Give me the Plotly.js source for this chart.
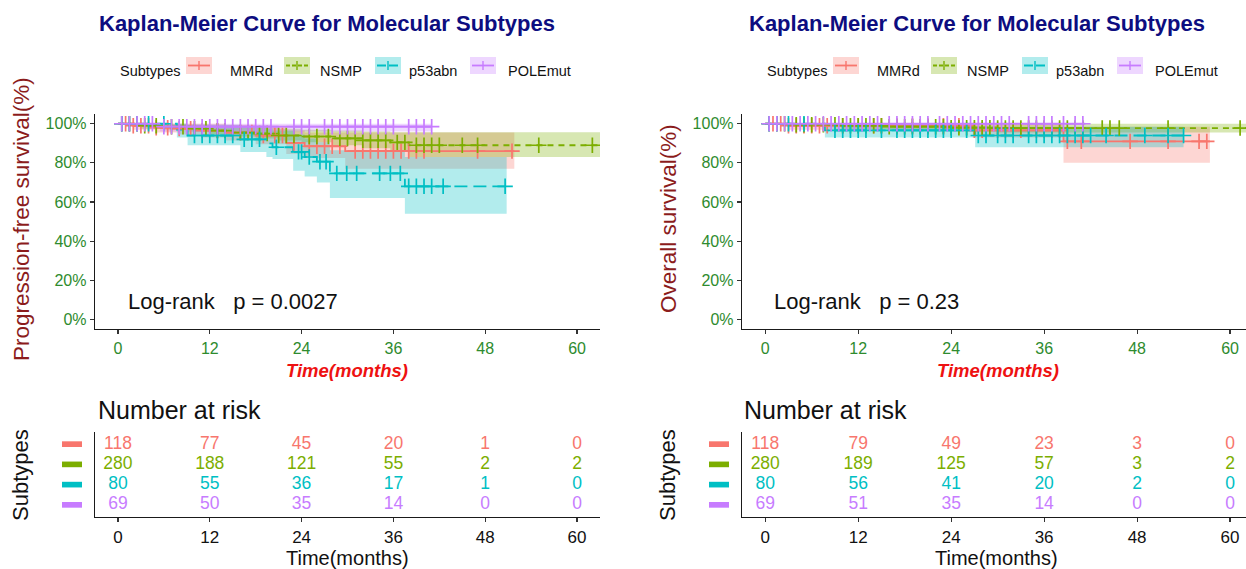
<!DOCTYPE html>
<html>
<head>
<meta charset="utf-8">
<script src="https://cdn.plot.ly/plotly-3.0.1.min.js"></script>
<style>html,body{margin:0;padding:0;background:#fff;}#chart{width:1246px;height:569px;}</style>
</head>
<body>
<div id="chart"></div>
<script>
// ---------------- DATA ----------------
const subtypes = ["MMRd", "NSMP", "p53abn", "POLEmut"];
const colors = ["#F8766D", "#7CAE00", "#00BFC4", "#C77CFF"];
const riskTimes = [0, 12, 24, 36, 48, 60];
const xTickVals = [0, 12, 24, 36, 48, 60];
const yTickVals = [0, 0.2, 0.4, 0.6, 0.8, 1.0];
const yTickText = ["0%", "20%", "40%", "60%", "80%", "100%"];

// Progression-free survival (left panel)
const pfsTimeMMRd  = [0, 2, 5, 8, 11, 14, 18, 22, 24.4, 29.7];
const pfsSurvMMRd  = [1, 0.99, 0.98, 0.975, 0.965, 0.955, 0.94, 0.902, 0.885, 0.86];
const pfsLowMMRd   = [1, 0.97, 0.955, 0.945, 0.93, 0.915, 0.895, 0.845, 0.825, 0.77];
const pfsUpMMRd    = [1, 1, 1, 1, 1, 0.995, 0.99, 0.965, 0.955, 0.955];
const pfsEndMMRd   = 51.8;
const pfsCensMMRd  = [1, 2, 3, 4, 5, 6.5, 8, 9.5, 11, 13, 15, 16, 17.5, 19, 20.5, 21.5, 23, 25, 26, 27, 28, 29, 31, 32, 33, 34, 35, 36, 37, 38, 39, 40, 47, 51.5];

const pfsTimeNSMP  = [0, 3, 6, 9, 12, 15, 18, 21, 24, 28, 32, 35.6, 38];
const pfsSurvNSMP  = [1, 0.99, 0.985, 0.975, 0.965, 0.955, 0.95, 0.94, 0.935, 0.925, 0.915, 0.905, 0.89];
const pfsLowNSMP   = [1, 0.975, 0.97, 0.96, 0.945, 0.935, 0.925, 0.915, 0.905, 0.89, 0.875, 0.86, 0.83];
const pfsUpNSMP    = [1, 1, 1, 0.995, 0.99, 0.985, 0.98, 0.975, 0.97, 0.965, 0.96, 0.956, 0.956];
const pfsEndNSMP   = 63;
const pfsCensNSMP  = [0.5, 1.5, 2.5, 3.5, 5, 7, 8.5, 10, 11.5, 13, 14, 16, 17, 18.5, 19.5, 21, 22, 23, 25, 26, 27.5, 29, 30, 31, 32, 33, 34, 35, 36.5, 37.5, 39, 40, 41, 42, 45, 47, 55, 62];

const pfsTimeP53   = [0, 7.7, 9.1, 16, 19.4, 20.2, 22.9, 24.4, 26, 27.7, 37.5];
const pfsSurvP53   = [1, 0.97, 0.94, 0.92, 0.90, 0.88, 0.856, 0.83, 0.806, 0.746, 0.68];
const pfsLowP53    = [1, 0.93, 0.89, 0.856, 0.83, 0.82, 0.76, 0.73, 0.70, 0.62, 0.54];
const pfsUpP53     = [1, 1, 0.995, 0.985, 0.975, 0.965, 0.945, 0.925, 0.905, 0.865, 0.83];
const pfsEndP53    = 50.8;
const pfsCensP53   = [0.5, 1.5, 2.5, 4, 6, 10, 11, 12, 13, 14, 15, 16.5, 17.5, 18.5, 20.7, 23.6, 24, 25, 26.4, 27.2, 28.6, 29.9, 31.2, 34.2, 35.6, 36.9, 38, 39, 40, 41, 42.5, 50.6];

const pfsTimePOLE  = [0, 5.5];
const pfsSurvPOLE  = [1, 0.985];
const pfsLowPOLE   = [1, 0.96];
const pfsUpPOLE    = [1, 1];
const pfsEndPOLE   = 41;
const pfsCensPOLE  = [0.5, 1.5, 2.5, 3.5, 4.5, 6, 7, 8, 9, 10, 11, 12, 13, 14, 15, 16, 17, 18, 19, 20, 23, 24, 25, 27, 28, 29, 30, 31, 32, 33, 34, 35, 36, 38, 39, 40, 41];

// Overall survival (right panel)
const osTimeMMRd   = [0, 3, 26.8, 38.5];
const osSurvMMRd   = [1, 0.99, 0.966, 0.91];
const osLowMMRd    = [1, 0.97, 0.93, 0.80];
const osUpMMRd     = [1, 1, 1, 0.985];
const osEndMMRd    = 57.4;
const osCensMMRd   = [1, 2, 3, 4, 5, 6, 7, 8, 10, 12, 14, 15, 17, 19, 21, 23, 25, 27, 28, 30, 31, 32, 33, 35, 36, 37, 38, 39, 40.8, 47.1, 52, 56, 57];

const osTimeNSMP   = [0, 4, 10, 16, 24, 30];
const osSurvNSMP   = [1, 0.995, 0.99, 0.985, 0.98, 0.978];
const osLowNSMP    = [1, 0.985, 0.975, 0.965, 0.96, 0.955];
const osUpNSMP     = [1, 1, 1, 1, 1, 1];
const osEndNSMP    = 62.1;
const osCensNSMP   = [0.5, 1.5, 2.5, 4, 5, 6, 7.5, 9, 10, 11, 12, 13, 14, 15, 16, 17, 18, 19, 20, 21, 22, 23, 24, 25, 26, 27, 28, 29, 30, 31, 32, 33, 34, 35, 36, 37, 38, 39, 40, 41, 43.5, 44.5, 45.7, 52, 61.3];

const osTimeP53    = [0, 7.7, 27.1];
const osSurvP53    = [1, 0.966, 0.94];
const osLowP53     = [1, 0.93, 0.88];
const osUpP53      = [1, 0.99, 0.985];
const osEndP53     = 54;
const osCensP53    = [0.5, 1.5, 3, 5, 9, 10, 11, 12, 13, 15, 17, 18, 19, 20, 21, 22, 23, 24, 26, 27.5, 28.5, 30, 31, 32, 34, 35, 36, 37, 38, 39, 40, 41, 42, 44, 49, 52, 54];

const osTimePOLE   = [0];
const osSurvPOLE   = [1];
const osLowPOLE    = [1];
const osUpPOLE     = [1];
const osEndPOLE    = 41.3;
const osCensPOLE   = [0.5, 1.5, 2.5, 3.5, 4.5, 5.5, 6.5, 7.5, 8.5, 9.5, 10.5, 11.5, 12.5, 13.5, 14.5, 16, 17, 18, 19, 20, 21, 22.5, 23.5, 24.5, 25.5, 26.5, 27.5, 28.5, 29.5, 30.5, 31.5, 34, 35, 36, 37, 38.5, 40, 41];

// Number at risk
const pfsRiskMMRd = [118, 77, 45, 20, 1, 0];
const pfsRiskNSMP = [280, 188, 121, 55, 2, 2];
const pfsRiskP53  = [80, 55, 36, 17, 1, 0];
const pfsRiskPOLE = [69, 50, 35, 14, 0, 0];
const osRiskMMRd  = [118, 79, 49, 23, 3, 0];
const osRiskNSMP  = [280, 189, 125, 57, 3, 2];
const osRiskP53   = [80, 56, 41, 20, 2, 0];
const osRiskPOLE  = [69, 51, 35, 14, 0, 0];

// ---------------- BUILD ----------------
const W = 1246, H = 569;
const px = x => x / W;
const py = y => 1 - y / H;
const FONT = "Liberation Sans, Arial, sans-serif";
const dashes = ["solid", "6px,5px", "13px,6px", "solid"];

function rgba(hex, a) {
  const r = parseInt(hex.slice(1, 3), 16), g = parseInt(hex.slice(3, 5), 16), b = parseInt(hex.slice(5, 7), 16);
  return `rgba(${r},${g},${b},${a})`;
}
function survAt(times, surv, t) {
  let s = surv[0];
  for (let i = 0; i < times.length; i++) if (times[i] <= t) s = surv[i];
  return s;
}
function ext(arr, endT) { return arr.concat([endT]); }
function extV(arr) { return arr.concat([arr[arr.length - 1]]); }

const pfsGroups = [
  {t: pfsTimeMMRd, s: pfsSurvMMRd, lo: pfsLowMMRd, up: pfsUpMMRd, end: pfsEndMMRd, c: pfsCensMMRd, risk: pfsRiskMMRd},
  {t: pfsTimeNSMP, s: pfsSurvNSMP, lo: pfsLowNSMP, up: pfsUpNSMP, end: pfsEndNSMP, c: pfsCensNSMP, risk: pfsRiskNSMP},
  {t: pfsTimeP53, s: pfsSurvP53, lo: pfsLowP53, up: pfsUpP53, end: pfsEndP53, c: pfsCensP53, risk: pfsRiskP53},
  {t: pfsTimePOLE, s: pfsSurvPOLE, lo: pfsLowPOLE, up: pfsUpPOLE, end: pfsEndPOLE, c: pfsCensPOLE, risk: pfsRiskPOLE}
];
const osGroups = [
  {t: osTimeMMRd, s: osSurvMMRd, lo: osLowMMRd, up: osUpMMRd, end: osEndMMRd, c: osCensMMRd, risk: osRiskMMRd},
  {t: osTimeNSMP, s: osSurvNSMP, lo: osLowNSMP, up: osUpNSMP, end: osEndNSMP, c: osCensNSMP, risk: osRiskNSMP},
  {t: osTimeP53, s: osSurvP53, lo: osLowP53, up: osUpP53, end: osEndP53, c: osCensP53, risk: osRiskP53},
  {t: osTimePOLE, s: osSurvPOLE, lo: osLowPOLE, up: osUpPOLE, end: osEndPOLE, c: osCensPOLE, risk: osRiskPOLE}
];

const data = [];
function addPanel(groups, xa, ya, xr, yr) {
  groups.forEach((g, i) => {
    data.push({type: "scatter", mode: "lines", x: ext(g.t, g.end), y: extV(g.lo), xaxis: xa, yaxis: ya,
      line: {shape: "hv", width: 0, color: "rgba(0,0,0,0)"}, hoverinfo: "skip", showlegend: false});
    data.push({type: "scatter", mode: "lines", x: ext(g.t, g.end), y: extV(g.up), xaxis: xa, yaxis: ya,
      line: {shape: "hv", width: 0, color: "rgba(0,0,0,0)"}, fill: "tonexty", fillcolor: rgba(colors[i], 0.3),
      hoverinfo: "skip", showlegend: false});
  });
  groups.forEach((g, i) => {
    data.push({type: "scatter", mode: "lines", x: ext(g.t, g.end), y: extV(g.s), xaxis: xa, yaxis: ya,
      line: {shape: "hv", width: 1.8, color: colors[i], dash: dashes[i]}, name: subtypes[i], showlegend: false});
  });
  groups.forEach((g, i) => {
    data.push({type: "scatter", mode: "markers", x: g.c, y: g.c.map(t => survAt(g.t, g.s, t)), xaxis: xa, yaxis: ya,
      marker: {symbol: "cross-thin-open", size: 11, line: {width: 1.7, color: colors[i]}, color: colors[i]},
      showlegend: false, hoverinfo: "skip"});
  });
  groups.forEach((g, i) => {
    data.push({type: "scatter", mode: "text", x: riskTimes, y: riskTimes.map(() => 4 - i), text: g.risk.map(String),
      xaxis: xr, yaxis: yr, textfont: {family: FONT, size: 17.5, color: colors[i]}, textposition: "middle center",
      showlegend: false, hoverinfo: "skip"});
  });
}
addPanel(pfsGroups, "x", "y", "x2", "y2");
addPanel(osGroups, "x3", "y3", "x4", "y4");

const kmDomY = [py(329), py(114)];
const rkDomY = [py(517), py(432)];
const leftDom = [px(95), px(600)];
const rightDom = [px(742), 1];

const axLine = {showline: true, linecolor: "#1a1a1a", linewidth: 1.3, showgrid: false, zeroline: false,
  ticks: "outside", ticklen: 4, tickcolor: "#333", tickwidth: 1.1};
const kmX = Object.assign({}, axLine, {tickvals: xTickVals, tickfont: {family: FONT, size: 16, color: "#2e8b2e"}});
const kmY = Object.assign({}, axLine, {range: [-0.05, 1.05], tickvals: yTickVals, ticktext: yTickText,
  tickfont: {family: FONT, size: 16, color: "#2e8b2e"}});
const rkX = Object.assign({}, axLine, {tickvals: xTickVals, tickfont: {family: FONT, size: 17, color: "#111"}});
const rkY = Object.assign({}, axLine, {range: [0.4, 4.6], showticklabels: false, ticks: ""});

const layout = {
  width: W, height: H, margin: {l: 0, r: 0, t: 0, b: 0}, showlegend: false,
  paper_bgcolor: "#fff", plot_bgcolor: "#fff", font: {family: FONT},
  xaxis: Object.assign({}, kmX, {domain: leftDom, range: [-3, 63], anchor: "y"}),
  yaxis: Object.assign({}, kmY, {domain: kmDomY, anchor: "x"}),
  xaxis2: Object.assign({}, rkX, {domain: leftDom, range: [-3, 63], anchor: "y2"}),
  yaxis2: Object.assign({}, rkY, {domain: rkDomY, anchor: "x2"}),
  xaxis3: Object.assign({}, kmX, {domain: rightDom, range: [-3, 62.06], anchor: "y3"}),
  yaxis3: Object.assign({}, kmY, {domain: kmDomY, anchor: "x3"}),
  xaxis4: Object.assign({}, rkX, {domain: rightDom, range: [-3, 62.06], anchor: "y4"}),
  yaxis4: Object.assign({}, rkY, {domain: rkDomY, anchor: "x4"}),
  annotations: [], shapes: []
};

function ann(x, y, text, opts) {
  layout.annotations.push(Object.assign({xref: "paper", yref: "paper", x: px(x), y: py(y), text: text,
    showarrow: false, xanchor: "center", yanchor: "middle", font: {family: FONT, size: 16, color: "#000"}}, opts || {}));
}

const panels = [
  {dx: 0, title: "Kaplan-Meier Curve for Molecular Subtypes", titleX: 327, ytitle: "Progression-free survival(%)", ytY: 219,
   xtX: 347, logrank: "Log-rank\u00a0\u00a0\u00a0p = 0.0027", lrX: 126, yr: "y2", barX: 62, subX: 20, nrX: 96, btX: 347},
  {dx: 647, title: "Kaplan-Meier Curve for Molecular Subtypes", titleX: 977, ytitle: "Overall survival(%)", ytY: 219,
   xtX: 998, logrank: "Log-rank\u00a0\u00a0\u00a0p = 0.23", lrX: 772, yr: "y4", barX: 709, subX: 667, nrX: 742, btX: 996}
];

const legItems = [
  {box: 186, text: 228},
  {box: 284, text: 318},
  {box: 375, text: 407},
  {box: 470, text: 506}
];

panels.forEach(p => {
  ann(p.titleX, 23, "<b>" + p.title + "</b>", {font: {family: FONT, size: 22, color: "#0d0d80"}});
  ann(p.dx + 118, 71, "Subtypes", {xanchor: "left", font: {family: FONT, size: 14.5, color: "#111"}});
  legItems.forEach((li, i) => {
    const bx = p.dx + li.box;
    layout.shapes.push({type: "rect", xref: "paper", yref: "paper", x0: px(bx), x1: px(bx + 26), y0: py(57), y1: py(74),
      fillcolor: rgba(colors[i], 0.3), line: {width: 0}});
    layout.shapes.push({type: "line", xref: "paper", yref: "paper", x0: px(bx + 2), x1: px(bx + 24), y0: py(65.5), y1: py(65.5),
      line: {color: colors[i], width: 1.8, dash: i === 1 ? "4px,2px" : (i === 2 ? "9px,3px" : "solid")}});
    layout.shapes.push({type: "line", xref: "paper", yref: "paper", x0: px(bx + 13), x1: px(bx + 13), y0: py(61), y1: py(70),
      line: {color: colors[i], width: 1.4}});
    ann(p.dx + li.text, 71, subtypes[i], {xanchor: "left", font: {family: FONT, size: 14.5, color: "#111"}});
  });
  ann(p.dx + 21, p.ytY, p.ytitle, {textangle: -90, font: {family: FONT, size: 22.5, color: "#8b1c1c"}});
  ann(p.xtX, 370, "<b><i>Time(months)</i></b>", {font: {family: FONT, size: 18.5, color: "#ee1111"}});
  ann(p.lrX, 301, p.logrank, {xanchor: "left", font: {family: FONT, size: 22, color: "#111"}});
  ann(p.nrX, 410, "Number at risk", {xanchor: "left", font: {family: FONT, size: 25, color: "#111"}});
  ann(p.subX, 475, "Subtypes", {textangle: -90, font: {family: FONT, size: 22, color: "#111"}});
  ann(p.btX, 558, "Time(months)", {font: {family: FONT, size: 20, color: "#111"}});
  subtypes.forEach((s, i) => {
    layout.shapes.push({type: "rect", xref: "paper", yref: p.yr, x0: px(p.barX), x1: px(p.barX + 20),
      y0: 4 - i - 0.14, y1: 4 - i + 0.14, fillcolor: colors[i], line: {width: 0}});
  });
});

Plotly.newPlot("chart", data, layout, {displayModeBar: false, staticPlot: true});
</script>
</body>
</html>
